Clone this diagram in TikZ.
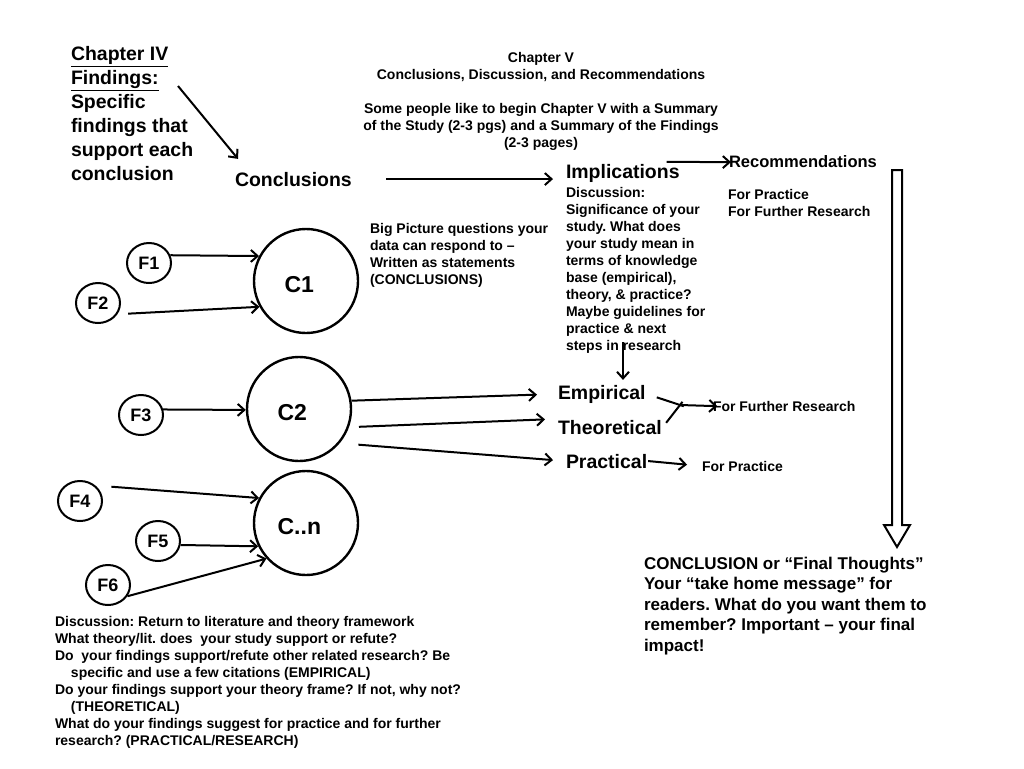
\documentclass[tikz,border=0pt]{standalone}
\usepackage{fontspec}
\setmainfont{Liberation Sans}
\usetikzlibrary{arrows.meta,calc,shapes.geometric}
\frenchspacing

\tikzset{every picture/.style={line width=1.5pt}}
\tikzset{
  conn/.style={-{Straight Barb[length=5pt,width=9pt]}, line width=1.5pt},
  thk/.style={line width=1.5pt},
  bigc/.style={circle, draw, line width=1.8pt, minimum size=78pt, inner sep=0pt},
  fc/.style={ellipse, draw, line width=1.5pt, minimum width=33pt, minimum height=30pt, inner sep=0pt, font=\bfseries\fontsize{13.5}{16}\selectfont},
  clbl/.style={font=\bfseries\fontsize{17.25}{20}\selectfont, xshift=-5pt, yshift=-3pt},
  hd/.style={inner sep=0pt, font=\bfseries\fontsize{14.6}{18}\selectfont},
  tlg/.style={inner sep=0pt, font=\bfseries\fontsize{12.4}{15}\selectfont},
  tmd/.style={inner sep=0pt, align=left, font=\bfseries\fontsize{10.5}{12.75}\selectfont},
  tbig/.style={inner sep=0pt, align=left, font=\bfseries\fontsize{12.75}{15.4}\selectfont}
}

\begin{document}
\begin{tikzpicture}[x=0.75pt,y=0.75pt,yscale=-1,xscale=1]
	\path (0,0) rectangle (1024,768); %set diagram to 1024 x 768

	% Text Node
	\node[hd, align=left, anchor=north west] (ch4) at (70,45) {\underline{Chapter IV}\\\underline{Findings:}\\Specific\\findings that\\support each\\conclusion};
	% Text Node
	\node[tmd, align=center, anchor=north] (ch5) at (541,51) {Chapter V\\Conclusions, Discussion, and Recommendations\\[12.75pt]Some people like to begin Chapter V with a Summary\\of the Study (2-3 pgs) and a Summary of the Findings\\(2-3 pages)};
	% Text Node
	\node[hd, anchor=base west] (conc) at (234,186) {Conclusions};
	% Text Node
	\node[hd, anchor=base west] (impl) at (565,178) {Implications};
	% Text Node
	\node[tmd, anchor=north west] (disc) at (565,186) {Discussion:\\Significance of your\\study. What does\\your study mean in\\terms of knowledge\\base (empirical),\\theory, \& practice?\\Maybe guidelines for\\practice \& next\\steps in research};
	% Text Node
	\node[tlg, anchor=base west] (rec) at (728,167) {Recommendations};
	% Text Node
	\node[tmd, anchor=north west] (recfor) at (727,188) {For Practice\\For Further Research};
	% Text Node
	\node[tmd, anchor=north west] (bigp) at (369,222) {Big Picture questions your\\data can respond to --\\Written as statements\\(CONCLUSIONS)};
	% Text Node
	\node[hd, anchor=base west] (emp) at (557,399) {Empirical};
	% Text Node
	\node[hd, anchor=base west] (theo) at (557,434) {Theoretical};
	% Text Node
	\node[hd, anchor=base west] (prac) at (565,468) {Practical};
	% Text Node
	\node[tmd, anchor=base west] (ffr) at (712,411) {For Further Research};
	% Text Node
	\node[tmd, anchor=base west] (fpr) at (701,471) {For Practice};
	% Text Node
	\node[tbig, anchor=north west] (final) at (643,556) {CONCLUSION or ``Final Thoughts''\\Your ``take home message'' for\\readers. What do you want them to\\remember? Important -- your final\\impact!};
	% Text Node
	\node[tmd, anchor=north west] (lit) at (54,615) {Discussion: Return to literature and theory framework\\What theory/lit. does\ \ your study support or refute?\\Do\ \ your findings support/refute other related research? Be\\\hspace*{12pt}specific and use a few citations (EMPIRICAL)\\Do your findings support your theory frame? If not, why not?\\\hspace*{12pt}(THEORETICAL)\\What do your findings suggest for practice and for further\\research? (PRACTICAL/RESEARCH)};

	%Shape: Circle
	\node[bigc, label={[clbl]center:C1}] (c1) at (306,281) {};
	\node[bigc, label={[clbl]center:C2}] (c2) at (299,409) {};
	\node[bigc, label={[clbl]center:C..n}] (cn) at (306,523) {};
	%Shape: Ellipse
	\node[fc] (f1) at (149,263) {F1};
	\node[fc] (f2) at (98,303) {F2};
	\node[fc] (f3) at (141,415) {F3};
	\node[fc] (f4) at (80,501) {F4};
	\node[fc] (f5) at (158,541) {F5};
	\node[fc] (f6) at (108,585) {F6};

	%Straight Lines
	\draw[conn] ($(ch4.north west)+(108,41)$) -- ($(conc.north west)+(4,-12)$);
	\draw[conn, shorten <=25pt, shorten >=9pt] (conc.east) -- (conc.east -| impl.west);
	\draw[conn] ($(impl.north east)+(-14,-1)$) -- ($(rec.west)+(3,1)$);
	\draw[conn] ($(disc.south west)+(58,-12)$) -- ($(emp.north west)+(66,-4)$);
	%Straight Lines
	\draw[conn] (f1.20) -- (c1.152);
	\draw[conn, shorten <=8pt] (f2.-30) -- (c1.209);
	\draw[conn] (f3.14) -- (c2.181);
	\draw[conn, shorten <=12pt] (f4.45) -- (cn.152);
	\draw[conn] (f5.-10) -- (cn.206);
	\draw[conn] (f6.-30) -- (cn.222);
	%Straight Lines
	\draw[conn, shorten >=15pt] (c2.9) -- (emp.west);
	\draw[conn, shorten <=7.5pt, shorten >=9pt] (c2.-20) -- (theo.north west);
	\draw[conn, shorten <=14pt, shorten >=9pt] (c2.-40) -- (prac.west);
	%Straight Lines
	\coordinate (jn) at (680,405);
	\draw[thk, shorten <=8pt, shorten >=-3pt] (emp.east) -- (jn);
	\draw[thk, shorten <=4pt, shorten >=-3pt] (theo.east) -- (jn);
	\draw[conn, shorten >=-4pt] (jn) -- (ffr.west);
	\draw[conn, shorten >=10.5pt] (prac.east) -- (fpr.west);

	%Shape: Hollow Arrow
	\draw[line width=1.5pt] (892,170) -- (902,170) -- (902,525) -- (910,525) -- (897,547) -- (884,525) -- (892,525) -- cycle;

\end{tikzpicture}
\end{document}
